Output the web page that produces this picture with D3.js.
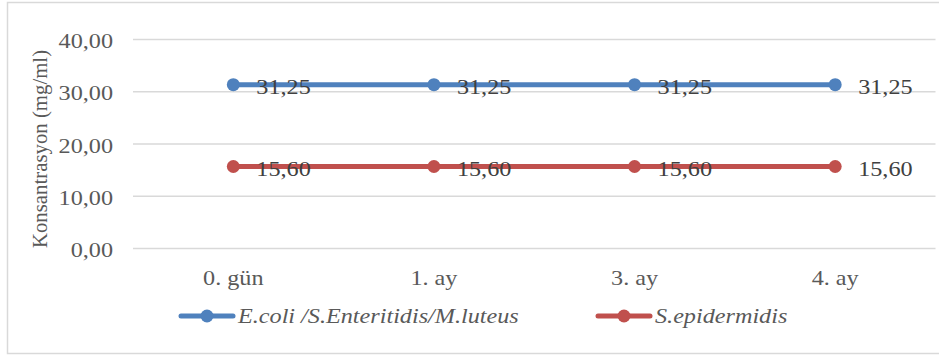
<!DOCTYPE html>
<html>
<head>
<meta charset="utf-8">
<script src="https://cdn.jsdelivr.net/npm/d3@7"></script>
<style>
  html, body { margin: 0; padding: 0; background: #fff; }
  svg { display: block; }
</style>
</head>
<body>
<svg id="chart" width="939" height="356"></svg>
<script>
// Time points and measured concentrations (mg/ml)
const categories = ["0. gün", "1. ay", "3. ay", "4. ay"];
const seriesNames = ["E.coli /S.Enteritidis/M.luteus", "S.epidermidis"];
const seriesColors = ["#4F81BD", "#C0504D"];
const ecoliValues = [31.25, 31.25, 31.25, 31.25];
const sepiValues = [15.60, 15.60, 15.60, 15.60];
const yTicks = [0, 10, 20, 30, 40];
const yTitle = "Konsantrasyon (mg/ml)";

const series = [
  { name: seriesNames[0], color: seriesColors[0], values: ecoliValues },
  { name: seriesNames[1], color: seriesColors[1], values: sepiValues }
];

const FONT = '"Liberation Serif", "Times New Roman", Tinos, serif';
const svg = d3.select("#chart");
const W = 939;
const plot = { left: 133, right: 935.5, top: 39, bottom: 248 };
const fmt = v => v.toFixed(2).replace(".", ",");
const textColor = "#404040";
const sx = 1.1; // horizontal widening of the serif glyphs

// Chart frame
svg.append("rect")
  .attr("x", 7.5).attr("y", 2.5)
  .attr("width", W).attr("height", 351)
  .attr("fill", "#fff").attr("stroke", "#d9d9d9").attr("stroke-width", 1.5);

const x = d3.scaleBand().domain(categories).range([plot.left, plot.right]);
const y = d3.scaleLinear().domain([0, 40]).range([plot.bottom, plot.top]);

// Draws a text label widened horizontally around its anchor point
function label(g, str, px, py, opts) {
  const o = Object.assign({ size: 22, anchor: "start", dy: "0.35em", italic: false, fill: textColor }, opts);
  return g.append("text")
    .attr("transform", `translate(${px},${py}) scale(${sx},1)`)
    .attr("text-anchor", o.anchor)
    .attr("dy", o.dy)
    .style("font-family", FONT)
    .style("font-size", o.size + "px")
    .style("font-style", o.italic ? "italic" : "normal")
    .attr("fill", o.fill)
    .text(str);
}

// Horizontal gridlines
const yAxis = d3.axisLeft(y).tickValues(yTicks).tickSize(-(plot.right - plot.left)).tickFormat("");
const gy = svg.append("g").attr("transform", `translate(${plot.left},0)`).call(yAxis);
gy.select(".domain").remove();
gy.selectAll(".tick line").attr("stroke", "#d9d9d9").attr("stroke-width", 1.5);

// Y tick labels
const gyl = svg.append("g");
yTicks.forEach(t => label(gyl, fmt(t), 113, y(t) + 1.5, { anchor: "end", fill: "#595959" }));

// X category labels
const gxl = svg.append("g");
categories.forEach(c => label(gxl, c, x(c) + x.bandwidth() / 2, 285, { anchor: "middle", dy: 0, fill: "#595959" }));

// Y axis title
svg.append("text")
  .attr("transform", `translate(47,149) rotate(-90)`)
  .attr("text-anchor", "middle")
  .style("font-family", FONT)
  .style("font-size", "20.8px")
  .attr("fill", "#595959")
  .text(yTitle);

// Series lines, markers and value labels
const cx = c => x(c) + x.bandwidth() / 2;
const line = d3.line().x((d, i) => cx(categories[i])).y(d => y(d));

series.forEach(s => {
  const g = svg.append("g");
  g.append("path")
    .attr("d", line(s.values))
    .attr("fill", "none").attr("stroke", s.color)
    .attr("stroke-width", 5).attr("stroke-linecap", "round");
  g.selectAll("circle").data(s.values).join("circle")
    .attr("cx", (d, i) => cx(categories[i])).attr("cy", d => y(d))
    .attr("r", 6.5).attr("fill", s.color);
  s.values.forEach((v, i) => label(g, fmt(v), cx(categories[i]) + 23, y(v) + 1.5));
});

// Legend
const legendItems = [
  { s: series[0], x0: 181 },
  { s: series[1], x0: 598 }
];
const ly = 316;
legendItems.forEach(({ s, x0 }) => {
  const g = svg.append("g");
  g.append("line")
    .attr("x1", x0).attr("x2", x0 + 52).attr("y1", ly).attr("y2", ly)
    .attr("stroke", s.color).attr("stroke-width", 5).attr("stroke-linecap", "round");
  g.append("circle").attr("cx", x0 + 26).attr("cy", ly).attr("r", 6.5).attr("fill", s.color);
  label(g, s.name, x0 + 57, 323, { italic: true, dy: 0, fill: "#595959" });
});
</script>
</body>
</html>
